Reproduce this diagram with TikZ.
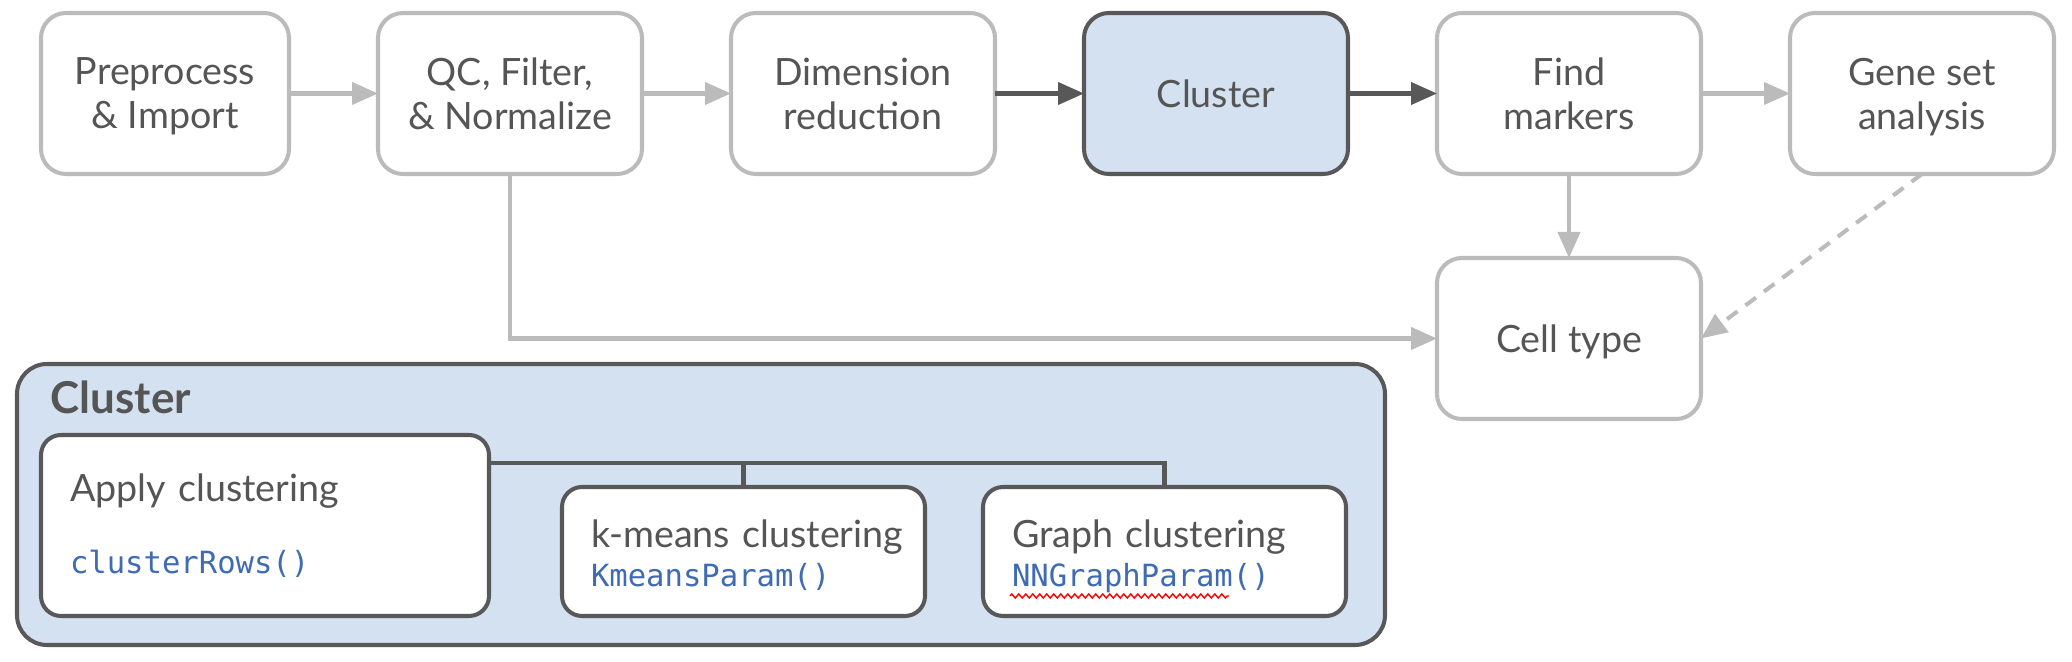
\documentclass[tikz,border=0pt]{standalone}
\usepackage{fontspec}
\setmainfont{Lato}
\newfontfamily\codefont{DejaVu Sans Mono}
\usetikzlibrary{calc, positioning, arrows.meta, decorations.pathmorphing}

\definecolor{lightline}{HTML}{BBBBBB}
\definecolor{darkline}{HTML}{585858}
\definecolor{textgray}{HTML}{555555}
\definecolor{panelblue}{HTML}{D4E1F1}
\definecolor{codeblue}{HTML}{3F6BB3}

\newcommand{\code}[1]{{\codefont\fontsize{8.7}{11.1}\selectfont\color{codeblue}#1}}

\tikzset{
  flow-box/.style={draw=lightline, line width=1.15pt, rounded corners=0.25cm, fill=white,
    text=textgray, align=center, minimum width=2.64cm, minimum height=1.61cm, text depth=0pt,
    inner sep=0pt, outer sep=0pt, font=\fontsize{10.7}{12.5}\selectfont},
  flow-box-on/.style={flow-box, draw=darkline, fill=panelblue},
  sub-box/.style={draw=darkline, line width=1.15pt, rounded corners=0.2cm, fill=white,
    text=textgray, align=left, inner xsep=0.29cm, inner ysep=0pt, outer sep=0pt,
    font=\fontsize{10.7}{11.1}\selectfont},
  method-box/.style={sub-box, text width=3.05cm, minimum height=1.29cm, text depth=0.35cm},
  light-arrow/.style={draw=lightline, line width=1.15pt, -{Triangle[length=0.26cm, width=0.22cm]}},
  dark-arrow/.style={light-arrow, draw=darkline},
}

\begin{document}
\begin{tikzpicture}

  \useasboundingbox (0,0) rectangle (20.72,-6.62);

  % top row of steps
  \node[flow-box, minimum width=2.48cm] (preprocess) at (1.65,-0.935) {Preprocess\\\& Import};
  \node[flow-box, right=0.89cm of preprocess] (qc-filter) {QC, Filter,\\\& Normalize};
  \node[flow-box, right=0.89cm of qc-filter] (dim-red) {Dimension\\reduction};
  \node[flow-box-on, right=0.89cm of dim-red] (cluster) {Cluster};
  \node[flow-box, right=0.89cm of cluster] (find-markers) {Find\\markers};
  \node[flow-box, right=0.89cm of find-markers] (gene-set) {Gene set\\analysis};
  \node[flow-box, below=0.84cm of find-markers] (cell-type) {Cell type};

  % arrows between steps
  \draw[light-arrow] (preprocess) to (qc-filter);
  \draw[light-arrow] (qc-filter) to (dim-red);
  \draw[dark-arrow] (dim-red) to (cluster);
  \draw[dark-arrow] (cluster) to (find-markers);
  \draw[light-arrow] (find-markers) to (gene-set);
  \draw[light-arrow] (find-markers) to (cell-type);
  \draw[light-arrow] (qc-filter) |- (cell-type);
  \draw[light-arrow, dash pattern=on 0.13cm off 0.1cm] (gene-set.south) to (cell-type.east);

  % cluster detail panel
  \node[draw=darkline, line width=1.15pt, fill=panelblue, rounded corners=0.3cm,
    minimum width=13.68cm, minimum height=2.81cm, inner sep=0pt, outer sep=0pt] (cluster-panel) at (7.01,-5.045) {};
  \node[anchor=base west, inner sep=0pt, text=textgray, font=\bfseries\fontsize{12.5}{15}\selectfont]
    (panel-title) at ($(cluster-panel.north west)+(0.33,-0.5)$) {Cluster};

  \node[sub-box, text width=3.9cm, minimum height=1.81cm] (apply-clust) at (2.65,-5.255)
    {Apply clustering\\[0.33cm]\code{clusterRows()}};
  \node[method-box] (kmeans-clust) at (7.435,-5.515)
    {\mbox{k-means clustering}\\\code{KmeansParam()}};
  \node[method-box, right=0.58cm of kmeans-clust] (graph-clust)
    {\mbox{Graph clustering}\\\code{NNGraphParam()}};

  % fork from apply box to the two methods
  \coordinate (fork) at ($(kmeans-clust.north)+(0,0.24)$);
  \draw[darkline, line width=1.15pt] (apply-clust.east |- fork) to (graph-clust.north |- fork) to (graph-clust.north);
  \draw[darkline, line width=1.15pt] (kmeans-clust.north |- fork) to (kmeans-clust.north);

  % spell check squiggle
  \coordinate (squiggle-left) at ($(graph-clust.south west)+(0.27,0.2)$);
  \draw[red, line width=0.4pt, decorate, decoration={zigzag, segment length=0.07cm, amplitude=0.02cm}]
    (squiggle-left) to ++(2.19,0);

\end{tikzpicture}
\end{document}
